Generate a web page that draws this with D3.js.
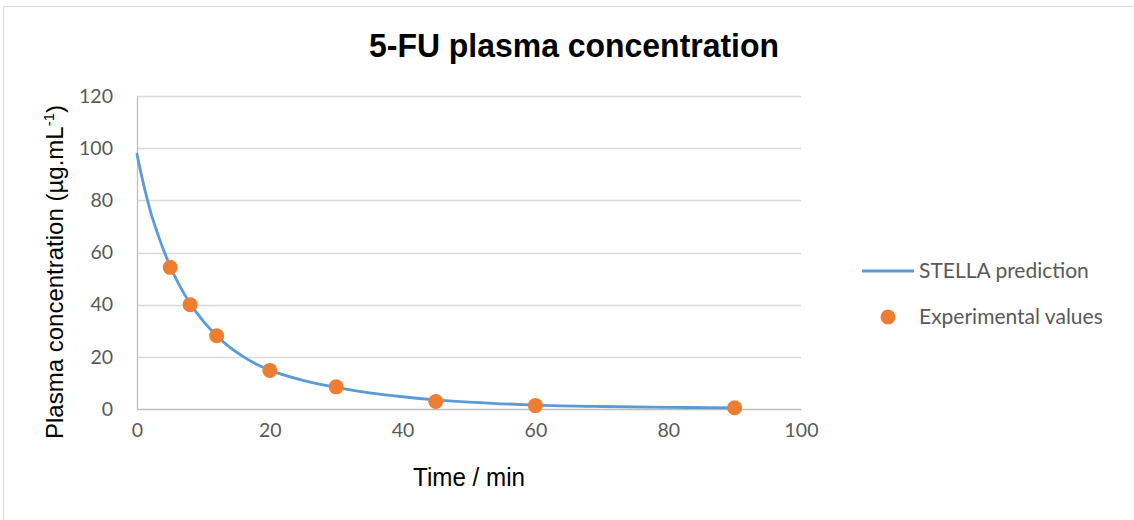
<!DOCTYPE html>
<html>
<head>
<meta charset="utf-8">
<script src="https://cdn.jsdelivr.net/npm/d3@7"></script>
<style>
  body { margin: 0; background: #fff; }
  svg { display: block; }
</style>
</head>
<body>
<div id="chart"></div>
<script>
// STELLA model output
const predTime = [0, 1, 2, 3, 4, 5, 6, 7, 8, 10, 12, 14, 16, 18, 20, 25, 30, 35, 40, 45, 50, 55, 60, 70, 80, 90];
const predConc = [97.7, 86, 76, 68, 61, 54.7, 49.3, 44.6, 40.5, 33.6, 28.1, 23.6, 20.1, 17.2, 14.9, 11, 8.3, 6.2, 4.7, 3.5, 2.6, 2, 1.5, 0.95, 0.65, 0.45];

// experimental points
const expTime = [5, 8, 12, 20, 30, 45, 60, 90];
const expConc = [54.3, 40.0, 28.1, 14.8, 8.5, 2.9, 1.3, 0.5];

const xTicks = [0, 20, 40, 60, 80, 100];
const yTicks = [0, 20, 40, 60, 80, 100, 120];
const seriesNames = ["STELLA prediction", "Experimental values"];

const W = 1134, H = 520;
const margin = { left: 137, top: 96, right: 333, bottom: 111 };
const width = W - margin.left - margin.right,
  height = H - margin.top - margin.bottom;

const blue = "#5b9bd5", orange = "#ed7d31";
const tickFont = "Lato, 'Open Sans', sans-serif";
const titleFont = "'Liberation Sans', Arial, sans-serif";

const svg = d3.select("#chart").append("svg")
  .attr("width", W)
  .attr("height", H);

// outer chart frame
svg.append("rect")
  .attr("x", 3.5).attr("y", 6.5)
  .attr("width", W + 10).attr("height", H + 10)
  .attr("fill", "#fff")
  .attr("stroke", "#d9d9d9");

const g = svg.append("g")
  .attr("transform", `translate(${margin.left},${margin.top})`);

const x = d3.scaleLinear().domain([0, 100]).range([0, width]);
const y = d3.scaleLinear().domain([0, 120]).range([height, 0]);

// gridlines
g.append("g")
  .selectAll("line")
  .data(yTicks.filter(d => d > 0))
  .join("line")
  .attr("x1", 0).attr("x2", width)
  .attr("y1", d => Math.round(y(d)) + 0.5)
  .attr("y2", d => Math.round(y(d)) + 0.5)
  .attr("stroke", "#d9d9d9")
  .attr("stroke-width", 1.3);

// axes
const yAxis = g.append("g")
  .call(d3.axisLeft(y).tickValues(yTicks).tickSize(0).tickPadding(24));
yAxis.select(".domain").attr("stroke", "#bfbfbf").attr("stroke-width", 1.3);

const xAxis = g.append("g")
  .attr("transform", `translate(0,${height})`)
  .call(d3.axisBottom(x).tickValues(xTicks).tickSize(0).tickPadding(14));
xAxis.select(".domain").attr("stroke", "#bfbfbf").attr("stroke-width", 1.3);

g.selectAll(".tick text")
  .attr("fill", "#595959")
  .style("font-family", tickFont)
  .style("font-size", "19.5px");

// prediction line
const line = d3.line()
  .x((d, i) => x(predTime[i]))
  .y(d => y(d))
  .curve(d3.curveMonotoneX);

g.append("path")
  .datum(predConc)
  .attr("d", line)
  .attr("fill", "none")
  .attr("stroke", blue)
  .attr("stroke-width", 2.8)
  .attr("stroke-linecap", "round");

// experimental points
g.selectAll("circle.exp")
  .data(expConc)
  .join("circle")
  .attr("class", "exp")
  .attr("cx", (d, i) => x(expTime[i]))
  .attr("cy", d => y(d))
  .attr("r", 7.5)
  .attr("fill", orange);

// title
svg.append("text")
  .attr("x", 574).attr("y", 57)
  .attr("text-anchor", "middle")
  .attr("textLength", 410)
  .attr("lengthAdjust", "spacingAndGlyphs")
  .style("font-family", titleFont)
  .style("font-weight", "bold")
  .style("font-size", "33px")
  .attr("fill", "#000")
  .text("5-FU plasma concentration");

// axis titles
svg.append("text")
  .attr("x", 469).attr("y", 486)
  .attr("text-anchor", "middle")
  .attr("textLength", 112)
  .attr("lengthAdjust", "spacingAndGlyphs")
  .style("font-family", titleFont)
  .style("font-size", "25px")
  .attr("fill", "#000")
  .text("Time / min");

const yt = svg.append("text")
  .attr("transform", "translate(63,272) rotate(-90)")
  .attr("text-anchor", "middle")
  .style("font-family", titleFont)
  .style("font-size", "24px")
  .attr("fill", "#000");
yt.append("tspan").text("Plasma concentration (µg.mL");
yt.append("tspan").attr("dy", -9).style("font-size", "15px").text("-1");
yt.append("tspan").attr("dy", 9).text(")");

// legend
const legend = svg.append("g").attr("transform", "translate(862,0)");
legend.append("line")
  .attr("x1", 0).attr("x2", 52)
  .attr("y1", 271).attr("y2", 271)
  .attr("stroke", blue).attr("stroke-width", 2.8);
legend.append("circle")
  .attr("cx", 26).attr("cy", 317).attr("r", 7.5)
  .attr("fill", orange);
legend.selectAll("text")
  .data(seriesNames)
  .join("text")
  .attr("x", 57)
  .attr("y", (d, i) => 271 + i * 46)
  .attr("dy", "0.35em")
  .attr("fill", "#595959")
  .style("font-family", tickFont)
  .style("font-size", "21px")
  .text(d => d);
</script>
</body>
</html>
